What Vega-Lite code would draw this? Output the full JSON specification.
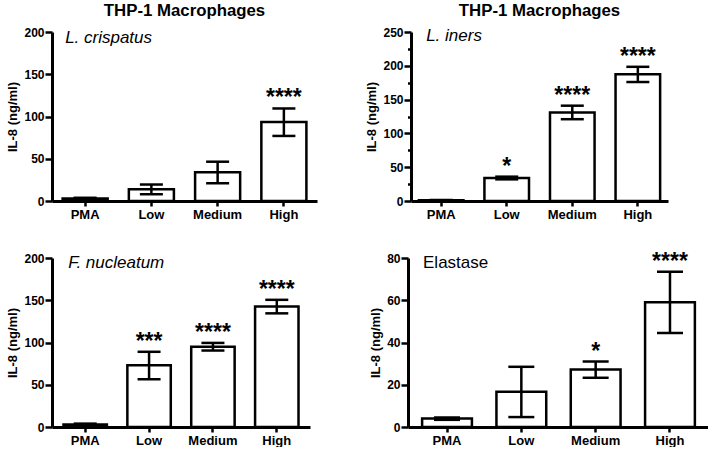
{
  "$schema": "https://vega.github.io/schema/vega-lite/v6.json",
  "background": "white",
  "padding": {"left": 6, "top": 3, "right": 0, "bottom": 0},
  "datasets": {
    "main": [
      {"panel": "A", "group": "PMA", "mean": 3, "lo": 2.2, "hi": 3.8, "star": ""},
      {"panel": "A", "group": "Low", "mean": 14, "lo": 8, "hi": 19.5, "star": ""},
      {"panel": "A", "group": "Medium", "mean": 34, "lo": 21, "hi": 46.5, "star": ""},
      {"panel": "A", "group": "High", "mean": 93.5, "lo": 77, "hi": 109.5, "star": "****"},
      {"panel": "B", "group": "PMA", "mean": 1, "lo": 0.6, "hi": 1.4, "star": ""},
      {"panel": "B", "group": "Low", "mean": 34, "lo": 32, "hi": 36, "star": "*"},
      {"panel": "B", "group": "Medium", "mean": 131, "lo": 121, "hi": 141, "star": "****"},
      {"panel": "B", "group": "High", "mean": 187.5, "lo": 176, "hi": 198.5, "star": "****"},
      {"panel": "C", "group": "PMA", "mean": 3, "lo": 2, "hi": 4, "star": ""},
      {"panel": "C", "group": "Low", "mean": 73, "lo": 56.5, "hi": 89, "star": "***"},
      {"panel": "C", "group": "Medium", "mean": 95, "lo": 90.5, "hi": 99.5, "star": "****"},
      {"panel": "C", "group": "High", "mean": 142.5, "lo": 134.5, "hi": 150.5, "star": "****"},
      {"panel": "D", "group": "PMA", "mean": 4, "lo": 3.4, "hi": 4.5, "star": ""},
      {"panel": "D", "group": "Low", "mean": 16.7, "lo": 4.7, "hi": 28.5, "star": ""},
      {"panel": "D", "group": "Medium", "mean": 27.2, "lo": 23.3, "hi": 31, "star": "*"},
      {"panel": "D", "group": "High", "mean": 59, "lo": 44.5, "hi": 73.5, "star": "****"}
    ]
  },
  "spacing": 29,
  "vconcat": [
    {
      "spacing": 48,
      "hconcat": [
        {
          "width": 265, "height": 169,
          "title": {"text": "THP-1 Macrophages"},
          "data": {"name": "main"},
          "transform": [{"filter": "datum.panel === 'A'"}],
          "encoding": {"x": {"field": "group", "type": "nominal", "sort": ["PMA", "Low", "Medium", "High"], "scale": {"paddingInner": 0.32, "paddingOuter": 0.16}, "axis": {"title": null}}},
          "layer": [
            {"mark": {"type": "bar", "fill": "white", "stroke": "black", "strokeWidth": 2.5}, "encoding": {"y": {"field": "mean", "type": "quantitative", "scale": {"domain": [0, 200], "nice": false}, "axis": {"title": "IL-8 (ng/ml)", "labelOverlap": false, "values": [0, 25, 50, 75, 100, 125, 150, 175, 200], "labelExpr": "datum.value % 50 === 0 ? datum.label : ''", "tickSize": {"condition": {"test": "datum.value % 50 !== 0", "value": 3.5}, "value": 7}}}}},
            {"mark": {"type": "rule", "color": "black", "strokeWidth": 2.5}, "encoding": {"y": {"field": "lo", "type": "quantitative"}, "y2": {"field": "hi"}}},
            {"mark": {"type": "tick", "color": "black", "size": 23, "thickness": 2.5, "opacity": 1}, "encoding": {"y": {"field": "lo", "type": "quantitative"}}},
            {"mark": {"type": "tick", "color": "black", "size": 23, "thickness": 2.5, "opacity": 1}, "encoding": {"y": {"field": "hi", "type": "quantitative"}}},
            {"transform": [{"filter": "datum.star !== ''"}], "mark": {"type": "text", "fontSize": 23, "fontWeight": "bold", "baseline": "alphabetic", "dy": -3, "color": "black"}, "encoding": {"y": {"field": "hi", "type": "quantitative"}, "text": {"field": "star"}}},
            {"transform": [{"filter": "datum.group === 'PMA'"}], "mark": {"type": "text", "text": "L. crispatus", "fontStyle": "italic", "fontSize": 17, "align": "left", "baseline": "middle", "dx": -20, "dy": 6, "color": "black"}, "encoding": {"y": {"datum": 200, "type": "quantitative"}}}
          ]
        },
        {
          "width": 257, "height": 169,
          "title": {"text": "THP-1 Macrophages"},
          "data": {"name": "main"},
          "transform": [{"filter": "datum.panel === 'B'"}],
          "encoding": {"x": {"field": "group", "type": "nominal", "sort": ["PMA", "Low", "Medium", "High"], "scale": {"paddingInner": 0.32, "paddingOuter": 0.12}, "axis": {"title": null}}},
          "layer": [
            {"mark": {"type": "bar", "fill": "white", "stroke": "black", "strokeWidth": 2.5}, "encoding": {"y": {"field": "mean", "type": "quantitative", "scale": {"domain": [0, 250], "nice": false}, "axis": {"title": "IL-8 (ng/ml)", "labelOverlap": false, "labelSeparation": -10, "values": [0, 25, 50, 75, 100, 125, 150, 175, 200, 225, 250], "labelExpr": "datum.value % 50 === 0 ? datum.label : ''", "tickSize": {"condition": {"test": "datum.value % 50 !== 0", "value": 3.5}, "value": 7}}}}},
            {"mark": {"type": "rule", "color": "black", "strokeWidth": 2.5}, "encoding": {"y": {"field": "lo", "type": "quantitative", "axis": {"title": "IL-8 (ng/ml)", "labelOverlap": false, "labelSeparation": -10, "values": [0, 25, 50, 75, 100, 125, 150, 175, 200, 225, 250], "labelExpr": "datum.value % 50 === 0 ? datum.label : ''", "tickSize": {"condition": {"test": "datum.value % 50 !== 0", "value": 3.5}, "value": 7}}}, "y2": {"field": "hi"}}},
            {"mark": {"type": "tick", "color": "black", "size": 23, "thickness": 2.5, "opacity": 1}, "encoding": {"y": {"field": "lo", "type": "quantitative", "axis": {"title": "IL-8 (ng/ml)", "labelOverlap": false, "labelSeparation": -10, "values": [0, 25, 50, 75, 100, 125, 150, 175, 200, 225, 250], "labelExpr": "datum.value % 50 === 0 ? datum.label : ''", "tickSize": {"condition": {"test": "datum.value % 50 !== 0", "value": 3.5}, "value": 7}}}}},
            {"mark": {"type": "tick", "color": "black", "size": 23, "thickness": 2.5, "opacity": 1}, "encoding": {"y": {"field": "hi", "type": "quantitative", "axis": {"title": "IL-8 (ng/ml)", "labelOverlap": false, "labelSeparation": -10, "values": [0, 25, 50, 75, 100, 125, 150, 175, 200, 225, 250], "labelExpr": "datum.value % 50 === 0 ? datum.label : ''", "tickSize": {"condition": {"test": "datum.value % 50 !== 0", "value": 3.5}, "value": 7}}}}},
            {"transform": [{"filter": "datum.star !== ''"}], "mark": {"type": "text", "fontSize": 23, "fontWeight": "bold", "baseline": "alphabetic", "dy": -3, "color": "black"}, "encoding": {"y": {"field": "hi", "type": "quantitative", "axis": {"title": "IL-8 (ng/ml)", "labelOverlap": false, "labelSeparation": -10, "values": [0, 25, 50, 75, 100, 125, 150, 175, 200, 225, 250], "labelExpr": "datum.value % 50 === 0 ? datum.label : ''", "tickSize": {"condition": {"test": "datum.value % 50 !== 0", "value": 3.5}, "value": 7}}}, "text": {"field": "star"}}},
            {"transform": [{"filter": "datum.group === 'PMA'"}], "mark": {"type": "text", "text": "L. iners", "fontStyle": "italic", "fontSize": 17, "align": "left", "baseline": "middle", "dx": -15, "dy": 4, "color": "black"}, "encoding": {"y": {"datum": 250, "type": "quantitative", "axis": {"title": "IL-8 (ng/ml)", "labelOverlap": false, "labelSeparation": -10, "values": [0, 25, 50, 75, 100, 125, 150, 175, 200, 225, 250], "labelExpr": "datum.value % 50 === 0 ? datum.label : ''", "tickSize": {"condition": {"test": "datum.value % 50 !== 0", "value": 3.5}, "value": 7}}}}}
          ]
        }
      ]
    },
    {
      "spacing": 59,
      "hconcat": [
        {
          "width": 258, "height": 169,
          "data": {"name": "main"},
          "transform": [{"filter": "datum.panel === 'C'"}],
          "encoding": {"x": {"field": "group", "type": "nominal", "sort": ["PMA", "Low", "Medium", "High"], "scale": {"paddingInner": 0.32, "paddingOuter": 0.18}, "axis": {"title": null}}},
          "layer": [
            {"mark": {"type": "bar", "fill": "white", "stroke": "black", "strokeWidth": 2.5}, "encoding": {"y": {"field": "mean", "type": "quantitative", "scale": {"domain": [0, 200], "nice": false}, "axis": {"title": "IL-8 (ng/ml)", "labelOverlap": false, "values": [0, 25, 50, 75, 100, 125, 150, 175, 200], "labelExpr": "datum.value % 50 === 0 ? datum.label : ''", "tickSize": {"condition": {"test": "datum.value % 50 !== 0", "value": 3.5}, "value": 7}}}}},
            {"mark": {"type": "rule", "color": "black", "strokeWidth": 2.5}, "encoding": {"y": {"field": "lo", "type": "quantitative"}, "y2": {"field": "hi"}}},
            {"mark": {"type": "tick", "color": "black", "size": 23, "thickness": 2.5, "opacity": 1}, "encoding": {"y": {"field": "lo", "type": "quantitative"}}},
            {"mark": {"type": "tick", "color": "black", "size": 23, "thickness": 2.5, "opacity": 1}, "encoding": {"y": {"field": "hi", "type": "quantitative"}}},
            {"transform": [{"filter": "datum.star !== ''"}], "mark": {"type": "text", "fontSize": 23, "fontWeight": "bold", "baseline": "alphabetic", "dy": -3, "color": "black"}, "encoding": {"y": {"field": "hi", "type": "quantitative"}, "text": {"field": "star"}}},
            {"transform": [{"filter": "datum.group === 'PMA'"}], "mark": {"type": "text", "text": "F. nucleatum", "fontStyle": "italic", "fontSize": 17, "align": "left", "baseline": "middle", "dx": -17, "dy": 5, "color": "black"}, "encoding": {"y": {"datum": 200, "type": "quantitative"}}}
          ]
        },
        {
          "width": 301, "height": 169,
          "data": {"name": "main"},
          "transform": [{"filter": "datum.panel === 'D'"}],
          "encoding": {"x": {"field": "group", "type": "nominal", "sort": ["PMA", "Low", "Medium", "High"], "scale": {"paddingInner": 0.33, "paddingOuter": 0.19}, "axis": {"title": null}}},
          "layer": [
            {"mark": {"type": "bar", "fill": "white", "stroke": "black", "strokeWidth": 2.5}, "encoding": {"y": {"field": "mean", "type": "quantitative", "scale": {"domain": [0, 80], "nice": false}, "axis": {"title": "IL-8 (ng/ml)", "labelOverlap": false, "values": [0, 10, 20, 30, 40, 50, 60, 70, 80], "labelExpr": "datum.value % 20 === 0 ? datum.label : ''", "tickSize": {"condition": {"test": "datum.value % 20 !== 0", "value": 3.5}, "value": 7}}}}},
            {"mark": {"type": "rule", "color": "black", "strokeWidth": 2.5}, "encoding": {"y": {"field": "lo", "type": "quantitative"}, "y2": {"field": "hi"}}},
            {"mark": {"type": "tick", "color": "black", "size": 26, "thickness": 2.5, "opacity": 1}, "encoding": {"y": {"field": "lo", "type": "quantitative"}}},
            {"mark": {"type": "tick", "color": "black", "size": 26, "thickness": 2.5, "opacity": 1}, "encoding": {"y": {"field": "hi", "type": "quantitative"}}},
            {"transform": [{"filter": "datum.star !== ''"}], "mark": {"type": "text", "fontSize": 23, "fontWeight": "bold", "baseline": "alphabetic", "dy": -3, "color": "black"}, "encoding": {"y": {"field": "hi", "type": "quantitative"}, "text": {"field": "star"}}},
            {"transform": [{"filter": "datum.group === 'PMA'"}], "mark": {"type": "text", "text": "Elastase", "fontSize": 17, "align": "left", "baseline": "middle", "dx": -24, "dy": 5, "color": "black"}, "encoding": {"y": {"datum": 80, "type": "quantitative"}}}
          ]
        }
      ]
    }
  ],
  "config": {
    "view": {"stroke": null},
    "font": "Liberation Sans",
    "axis": {"domainColor": "#000", "tickColor": "#000", "labelColor": "#000", "titleColor": "#000", "domainWidth": 3, "tickWidth": 2.5, "grid": false, "labelFontWeight": "bold", "titleFontWeight": "bold", "labelFont": "Liberation Sans", "titleFont": "Liberation Sans", "labelOverlap": false},
    "axisX": {"labelFontSize": 13, "tickSize": 5, "labelAngle": 0, "labelPadding": 2},
    "axisY": {"labelFontSize": 12, "titleFontSize": 13, "titlePadding": 4, "labelPadding": 1},
    "title": {"fontSize": 16.8, "fontWeight": "bold", "color": "#000", "anchor": "middle", "frame": "group", "offset": 6, "font": "Liberation Sans"}
  }
}
